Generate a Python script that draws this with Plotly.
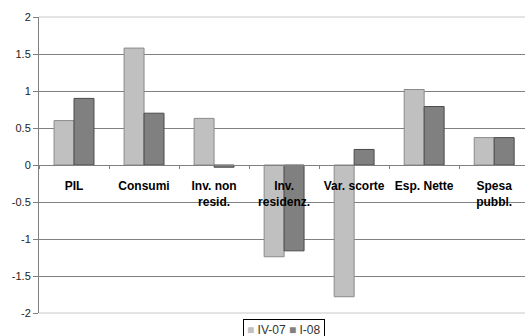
import plotly.graph_objects as go

categories = ["PIL", "Consumi", "Inv. non<br>resid.", "Inv.<br>residenz.",
              "Var. scorte", "Esp. Nette", "Spesa<br>pubbl."]
iv07 = [0.60, 1.58, 0.63, -1.24, -1.78, 1.02, 0.37]
i08 = [0.90, 0.70, -0.03, -1.16, 0.21, 0.79, 0.37]
series_names = ["IV-07", "I-08"]
series_colors = ["#C0C0C0", "#808080"]
series_edges = ["#8A8A8A", "#4A4A4A"]
y_ticks = [-2, -1.5, -1, -0.5, 0, 0.5, 1, 1.5, 2]
y_tick_text = ["-2", "-1.5", "-1", "-0.5", "0", "0.5", "1", "1.5", "2"]

fig = go.Figure()
for vals, name, col, edge in zip([iv07, i08], series_names, series_colors, series_edges):
    fig.add_trace(go.Bar(x=categories, y=vals, name=name,
                         marker=dict(color=col, line=dict(color=edge, width=1))))

legend_text = "&nbsp;".join(
    f"<span style='color:{c}'>■</span>&nbsp;{n}" for n, c in zip(series_names, series_colors)
)

fig.update_layout(
    width=525, height=336,
    margin=dict(l=39, r=0, t=17, b=23),
    paper_bgcolor="white", plot_bgcolor="white",
    barmode="group", bargap=0.43, bargroupgap=0,
    font=dict(family="Liberation Sans, Arial, sans-serif", color="#000000"),
    showlegend=False,
    annotations=[dict(
        text=legend_text, xref="paper", yref="paper", x=0.505, y=-0.02,
        xanchor="center", yanchor="top", showarrow=False,
        font=dict(size=12, color="#333333"),
        bordercolor="#000000", borderwidth=1, borderpad=3, bgcolor="white",
    )],
    xaxis=dict(
        type="category", range=[-0.5, 6.44],
        anchor="free", position=0.5, automargin=False,
        showline=True, linecolor="#808080", linewidth=1,
        ticks="outside", ticklen=3, tickcolor="#808080",
        showgrid=False, zeroline=False, tickangle=0,
        tickfont=dict(size=12, family="Liberation Sans, Arial, sans-serif",
                      color="#000000", weight="bold"),
        ticklabelstandoff=10,
        tickson="boundaries",
    ),
    yaxis=dict(
        range=[-2, 2], tickvals=y_ticks, ticktext=y_tick_text, automargin=False,
        showgrid=True, gridcolor="#808080", gridwidth=1,
        zeroline=False,
        showline=True, linecolor="#808080", linewidth=1,
        ticks="outside", ticklen=5, tickcolor="#808080",
        tickfont=dict(size=11, color="#222222"),
    ),
    shapes=[
        dict(type="line", xref="paper", yref="paper", x0=0, x1=1, y0=1, y1=1,
             line=dict(color="#C8C8C8", width=1), layer="above"),
        dict(type="line", xref="paper", yref="paper", x0=0, x1=1, y0=0, y1=0,
             line=dict(color="#C8C8C8", width=1), layer="above"),
    ],
)

fig.write_html("out.html", config={"displayModeBar": False},
               post_script="document.body.style.margin='0';document.body.style.overflow='hidden';")
